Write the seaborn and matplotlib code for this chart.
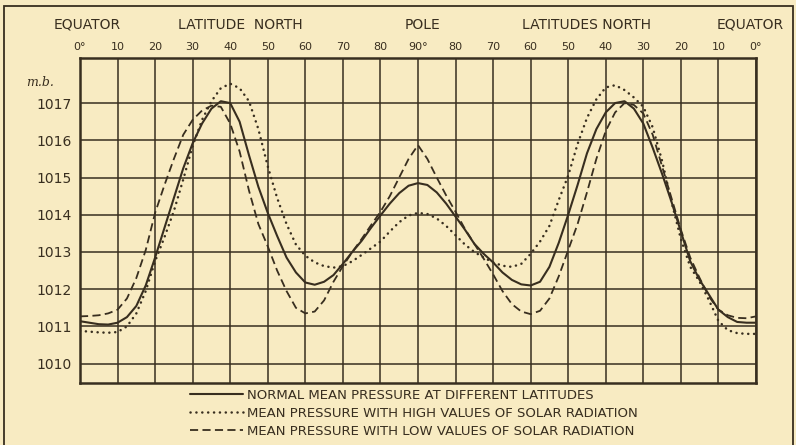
import numpy as np
import pandas as pd
import seaborn as sns
import matplotlib.pyplot as plt
from matplotlib.patches import Rectangle

# degrees along the section: equator -> pole -> equator
deg = list(np.arange(0, 180.1, 2.5))

normal = [1011.14, 1011.10, 1011.06, 1011.05, 1011.10, 1011.25, 1011.55, 1012.10,
          1012.85, 1013.65, 1014.45, 1015.25, 1015.92, 1016.45, 1016.85, 1017.05,
          1017.00, 1016.50, 1015.60, 1014.75, 1014.05, 1013.43, 1012.85, 1012.45,
          1012.18, 1012.12, 1012.20, 1012.38, 1012.68, 1013.00, 1013.30, 1013.65,
          1013.98, 1014.30, 1014.58, 1014.78, 1014.85, 1014.80, 1014.60, 1014.30,
          1013.95, 1013.60, 1013.22, 1012.95, 1012.72, 1012.45, 1012.25, 1012.13,
          1012.10, 1012.20, 1012.60, 1013.25, 1014.00, 1014.80, 1015.65, 1016.30,
          1016.75, 1017.00, 1017.05, 1016.85, 1016.45, 1015.80, 1015.10, 1014.35,
          1013.55, 1012.75, 1012.25, 1011.85, 1011.45, 1011.25, 1011.12, 1011.10,
          1011.10]

high = [1010.88, 1010.86, 1010.84, 1010.83, 1010.85, 1011.00, 1011.35, 1011.95,
        1012.75, 1013.40, 1014.10, 1014.95, 1015.85, 1016.55, 1017.05, 1017.40,
        1017.52, 1017.40, 1017.05, 1016.30, 1015.30, 1014.45, 1013.75, 1013.20,
        1012.90, 1012.72, 1012.62, 1012.58, 1012.62, 1012.75, 1012.92, 1013.10,
        1013.28, 1013.55, 1013.80, 1013.98, 1014.05, 1014.02, 1013.90, 1013.70,
        1013.45, 1013.20, 1013.00, 1012.85, 1012.72, 1012.63, 1012.60, 1012.68,
        1012.95, 1013.28, 1013.70, 1014.40, 1015.05, 1015.90, 1016.60, 1017.10,
        1017.42, 1017.48, 1017.35, 1017.15, 1016.90, 1016.35, 1015.45, 1014.35,
        1013.35, 1012.60, 1012.20, 1011.70, 1011.15, 1010.90, 1010.82, 1010.80,
        1010.80]

low = [1011.27, 1011.28, 1011.30, 1011.35, 1011.45, 1011.75, 1012.30, 1013.05,
       1014.05, 1014.80, 1015.50, 1016.15, 1016.55, 1016.80, 1016.93, 1016.90,
       1016.45, 1015.70, 1014.65, 1013.75, 1013.15, 1012.50, 1011.95, 1011.50,
       1011.35, 1011.40, 1011.70, 1012.20, 1012.62, 1013.00, 1013.35, 1013.72,
       1014.08, 1014.50, 1015.00, 1015.50, 1015.87, 1015.50, 1015.00, 1014.52,
       1014.08, 1013.62, 1013.22, 1012.82, 1012.40, 1011.95, 1011.60, 1011.40,
       1011.33, 1011.42, 1011.75, 1012.35, 1013.05, 1013.75, 1014.60, 1015.50,
       1016.25, 1016.75, 1017.00, 1016.95, 1016.72, 1016.15, 1015.30, 1014.45,
       1013.60, 1012.85, 1012.30, 1011.80, 1011.45, 1011.30, 1011.23, 1011.22,
       1011.27]

xticks = list(range(0, 181, 10))
xlabels = ["0°", "10", "20", "30", "40", "50", "60", "70", "80", "90°",
           "80", "70", "60", "50", "40", "30", "20", "10", "0°"]
yticks = [1010, 1011, 1012, 1013, 1014, 1015, 1016, 1017]

labels = ["NORMAL MEAN PRESSURE AT DIFFERENT LATITUDES",
          "MEAN PRESSURE WITH HIGH VALUES OF SOLAR RADIATION",
          "MEAN PRESSURE WITH LOW VALUES OF SOLAR RADIATION"]

df = pd.DataFrame({"deg": deg, "normal": normal, "high": high, "low": low})

bg = "#f8ebc2"
ink = "#382e1f"

sns.set_style("white")
plt.rcParams["font.family"] = ["DejaVu Sans"]

fig = plt.figure(figsize=(7.96, 4.45), dpi=100, facecolor=bg)
ax = fig.add_axes([0.1005, 0.1393, 0.8492, 0.7303])
ax.set_facecolor(bg)

sns.lineplot(data=df, x="deg", y="normal", ax=ax, color=ink, lw=1.5, label=labels[0])
sns.lineplot(data=df, x="deg", y="high", ax=ax, color=ink, lw=1.8,
             linestyle=(0, (0.05, 2.3)), dash_capstyle="round", label=labels[1])
sns.lineplot(data=df, x="deg", y="low", ax=ax, color=ink, lw=1.3,
             linestyle=(0, (4.5, 2.4)), label=labels[2])

ax.set_xlim(0, 180)
ax.set_ylim(1009.48, 1018.21)
ax.set_xticks(xticks)
ax.set_xticklabels(xlabels, fontsize=8, color=ink)
ax.xaxis.tick_top()
ax.set_yticks(yticks)
ax.set_yticklabels([str(v) for v in yticks], fontsize=10, color=ink)
ax.tick_params(length=0)
ax.tick_params(axis="x", pad=4)
ax.tick_params(axis="y", pad=6)
ax.set_xlabel("")
ax.set_ylabel("")
ax.grid(True, color=ink, lw=1.1)
for s in ax.spines.values():
    s.set_color(ink)
    s.set_linewidth(1.8)

ax.legend(loc="upper left", bbox_to_anchor=(190 / 796, 1 - 389 / 445),
          bbox_transform=fig.transFigure, frameon=False, fontsize=9.5,
          handlelength=4.0, handletextpad=0.3, labelspacing=0.38,
          borderpad=0, borderaxespad=0, labelcolor=ink)

# header lettering
for txt, xc in [("EQUATOR", 87), ("LATITUDE  NORTH", 240), ("POLE", 422),
                ("LATITUDES NORTH", 586), ("EQUATOR", 750)]:
    fig.text(xc / 796, 1 - 25 / 445, txt, ha="center", va="center",
             fontsize=10, color=ink)

fig.text(40 / 796, 1 - 82 / 445, "m.b.", ha="center", va="center",
         fontsize=9, style="italic", family="DejaVu Serif", color=ink)

# outer frame of the plate
fig.add_artist(Rectangle((4 / 796, -0.1), 789 / 796, 1.1 - 6 / 445,
                         transform=fig.transFigure, fill=False,
                         edgecolor=ink, lw=1.3, clip_on=False))

fig.savefig("out.png", dpi=100, facecolor=bg)
